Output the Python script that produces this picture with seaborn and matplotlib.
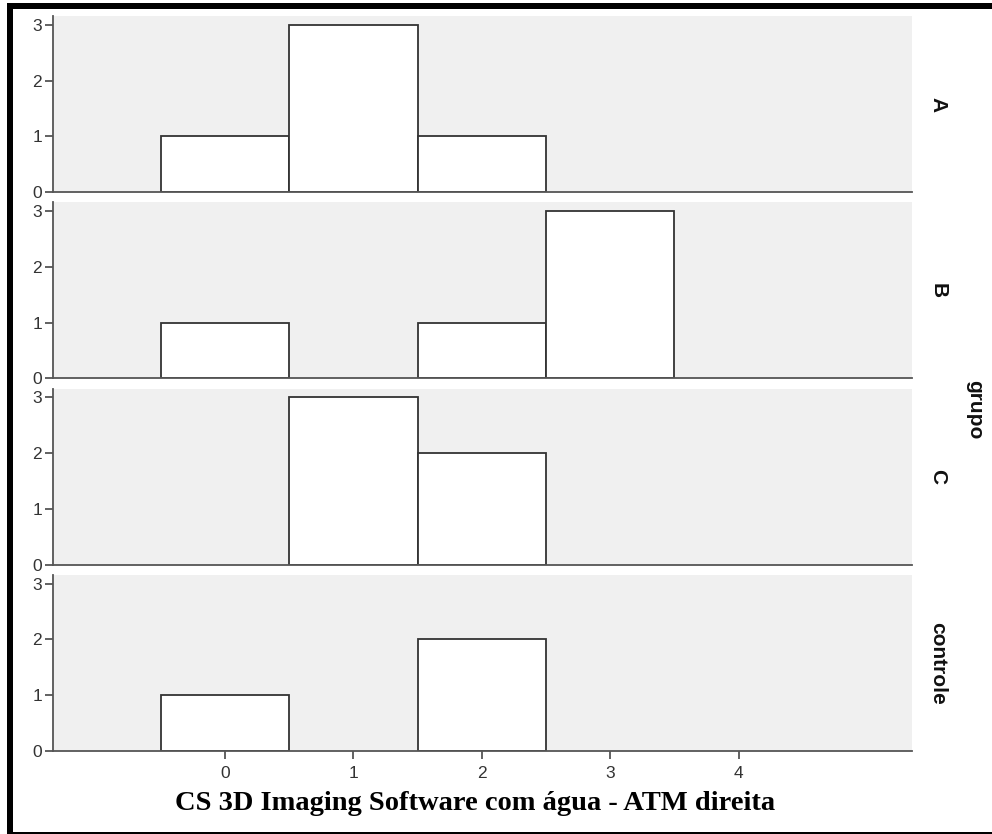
import numpy as np
import pandas as pd
import seaborn as sns
import matplotlib
matplotlib.use("Agg")
import matplotlib.pyplot as plt
from matplotlib.patches import Rectangle

groups = ["A", "B", "C", "controle"]
bins = [0, 1, 2, 3, 4]
count_A = [1, 3, 1, 0, 0]
count_B = [1, 0, 1, 3, 0]
count_C = [0, 3, 2, 0, 0]
count_controle = [1, 0, 2, 0, 0]
xlabel = "CS 3D Imaging Software com água - ATM direita"
facet_label = "grupo"

counts = {"A": count_A, "B": count_B, "C": count_C, "controle": count_controle}
rows = []
for grp in groups:
    for b, n in zip(bins, counts[grp]):
        rows.append({"grupo": grp, "valor": b, "n": n})
df = pd.DataFrame(rows)

sns.set_theme(style="ticks")
plt.rcParams["font.family"] = ["Liberation Sans", "DejaVu Sans"]

W, H = 992, 834
fig, axes = plt.subplots(4, 1, figsize=(W / 100, H / 100), dpi=100, sharex=True)
fig.patch.set_facecolor("white")
fig.subplots_adjust(left=53 / W, right=912 / W, top=1 - 16 / H, bottom=1 - 751 / H, hspace=0.057)

axis_col = "#555555"
for i, (ax, grp) in enumerate(zip(axes, groups)):
    sub = df[df["grupo"] == grp]
    sns.histplot(data=sub, x="valor", weights="n", discrete=True, ax=ax,
                 color="white", edgecolor="#333333", linewidth=1.3, alpha=1)
    for p in ax.patches:
        if p.get_height() == 0:
            p.set_visible(False)
    ax.set_facecolor("#f0f0f0")
    ax.set_xlim(-1.34, 5.35)
    ax.set_ylim(0, 3.16)
    ax.set_yticks([0, 1, 2, 3])
    ax.set_ylabel("")
    ax.set_xlabel("")
    for s in ["top", "right"]:
        ax.spines[s].set_visible(False)
    for s in ["left", "bottom"]:
        ax.spines[s].set_color(axis_col)
        ax.spines[s].set_linewidth(1.3)
    ax.tick_params(axis="y", length=6, width=1.3, color=axis_col, labelsize=12.5,
                   labelcolor="#333333", pad=2)
    if i < 3:
        ax.tick_params(axis="x", length=0, labelbottom=False)
    else:
        ax.set_xticks([0, 1, 2, 3, 4])
        ax.tick_params(axis="x", length=6, width=1.3, color=axis_col, labelsize=12.5,
                       labelcolor="#333333", pad=5)
    ax.text(1.03, 0.5, grp, transform=ax.transAxes, rotation=-90, ha="center", va="center",
            fontsize=15, fontweight="bold", color="#111111")

fig.text(975 / W, 1 - 410 / H, facet_label, rotation=-90, ha="center", va="center",
         fontsize=15, fontweight="bold", color="#111111")
fig.text(475 / W, 1 - 803 / H, xlabel, ha="center", va="center",
         fontsize=20.5, fontweight="bold", family=["Liberation Serif", "DejaVu Serif"], color="black")

# outer frame
fig.add_artist(Rectangle((7 / W, 0), 6 / W, 1 - 3 / H, transform=fig.transFigure,
                         facecolor="black", edgecolor="none"))
fig.add_artist(Rectangle((7 / W, 1 - 9 / H), 1 - 7 / W, 6 / H, transform=fig.transFigure,
                         facecolor="black", edgecolor="none"))
fig.add_artist(Rectangle((7 / W, 0), 1 - 7 / W, 2 / H, transform=fig.transFigure,
                         facecolor="black", edgecolor="none"))

fig.savefig("out.png", dpi=100)
